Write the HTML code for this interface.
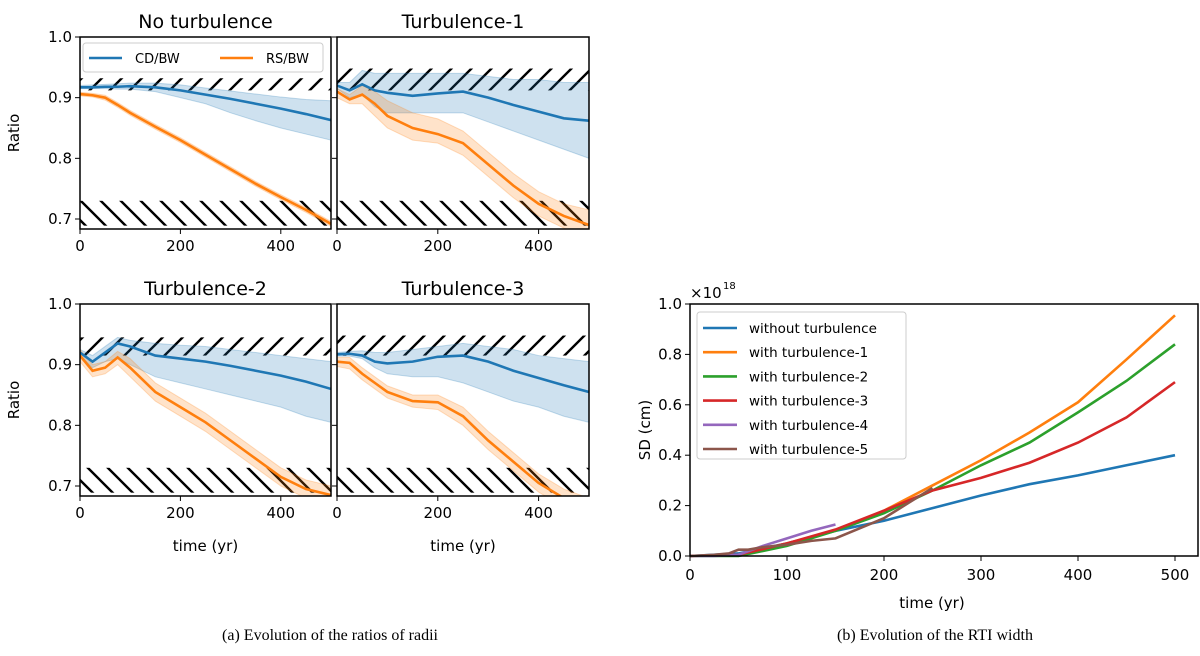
<!DOCTYPE html>
<html><head><meta charset="utf-8"><style>
body{margin:0;background:#fff;}
svg{display:block;font-family:"DejaVu Sans","Liberation Sans",sans-serif;}
</style></head><body>
<svg id="fig" width="1200" height="656" viewBox="0 0 1200 656" xmlns="http://www.w3.org/2000/svg">
<defs>
<pattern id="hatchF" width="20" height="20" patternUnits="userSpaceOnUse"><path d="M-5,25 L25,-5 M-5,5 L5,-5 M15,25 L25,15" stroke="#000" stroke-width="2.4"/></pattern>
<pattern id="hatchB" width="20" height="20" patternUnits="userSpaceOnUse"><path d="M-5,-5 L25,25 M-5,15 L5,25 M15,-5 L25,5" stroke="#000" stroke-width="2.4"/></pattern>
</defs>
<text x="330" y="640" text-anchor="middle" font-family="Liberation Serif,serif" font-size="16">(a)  Evolution of the ratios of radii</text>
<text x="935" y="640" text-anchor="middle" font-family="Liberation Serif,serif" font-size="16">(b)  Evolution of the RTI width</text>
</svg>
<script>
const NS="http://www.w3.org/2000/svg";
const svg=document.getElementById('fig');
function mk(tag,attrs,parent,text){const e=document.createElementNS(NS,tag);for(const k in attrs)e.setAttribute(k,attrs[k]);if(text!==undefined)e.textContent=text;(parent||svg).appendChild(e);return e;}

// ---- Left panels data ----
const ratioTime=[0,25,50,75,100,150,200,250,300,350,400,450,500];
const panelTitles=["No turbulence","Turbulence-1","Turbulence-2","Turbulence-3"];
const cdMean=[
 [.917,.917,.918,.918,.919,.917,.912,.905,.898,.89,.882,.873,.863],
 [.92,.912,.922,.912,.908,.903,.907,.91,.9,.888,.877,.866,.862],
 [.92,.905,.92,.935,.93,.915,.91,.905,.898,.89,.882,.872,.86],
 [.917,.918,.915,.905,.902,.905,.913,.915,.905,.89,.878,.866,.855]];
const cdLow=[
 [.915,.915,.915,.914,.914,.91,.9,.89,.875,.862,.85,.84,.83],
 [.915,.9,.905,.885,.875,.875,.875,.875,.86,.845,.83,.815,.8],
 [.915,.895,.905,.91,.9,.88,.87,.86,.85,.84,.83,.815,.805],
 [.914,.914,.91,.895,.885,.88,.88,.87,.855,.84,.83,.815,.805]];
const cdHigh=[
 [.92,.921,.922,.923,.924,.924,.921,.916,.911,.906,.901,.897,.895],
 [.925,.925,.945,.94,.94,.94,.94,.94,.935,.93,.93,.925,.925],
 [.925,.915,.93,.945,.94,.935,.932,.93,.925,.92,.915,.91,.905],
 [.92,.922,.923,.92,.92,.925,.93,.935,.93,.925,.915,.91,.905]];
const rsMean=[
 [.906,.904,.9,.888,.875,.852,.83,.806,.782,.758,.736,.715,.692],
 [.91,.897,.905,.89,.87,.85,.84,.825,.79,.755,.725,.705,.69],
 [.915,.89,.895,.912,.895,.855,.83,.805,.775,.745,.715,.695,.685],
 [.905,.903,.885,.87,.855,.84,.838,.815,.775,.74,.705,.68,.665]];
const rsLow=[
 [.903,.901,.896,.884,.871,.848,.826,.802,.778,.754,.732,.711,.688],
 [.9,.89,.89,.87,.85,.83,.825,.805,.77,.735,.705,.685,.67],
 [.905,.88,.885,.9,.88,.84,.815,.79,.76,.73,.7,.68,.67],
 [.897,.893,.875,.86,.845,.83,.826,.8,.76,.725,.69,.665,.65]];
const rsHigh=[
 [.909,.907,.904,.892,.879,.856,.834,.81,.786,.762,.74,.719,.696],
 [.915,.905,.92,.91,.895,.875,.865,.845,.81,.775,.745,.725,.715],
 [.925,.9,.905,.922,.91,.87,.845,.82,.79,.76,.73,.71,.7],
 [.912,.912,.895,.88,.865,.85,.85,.83,.79,.755,.72,.695,.68]];
const upperBand=[[.912,.932],[.912,.948],[.915,.945],[.915,.948]];
const lowerBand=[[.689,.73],[.689,.73],[.689,.73],[.689,.73]];
const ratioTicks=[0.7,0.8,0.9,1.0];
const timeTicksL=[0,200,400];

const boxes=[{l:80,r:331,y1:37,y07:219,b:229},{l:337,r:589,y1:37,y07:219,b:229},
             {l:80,r:331,y1:304,y07:486,b:496},{l:337,r:589,y1:304,y07:486,b:496}];
boxes.forEach((B,i)=>{
  const g=mk('g',{});
  
  
  const xs=v=>B.l+(v/500)*(B.r-B.l);
  const ys=v=>B.y1+(1-v)/0.3*(B.y07-B.y1);
  const cid='clip'+i;
  const cp=mk('clipPath',{id:cid},g);mk('rect',{x:B.l,y:B.y1,width:B.r-B.l,height:B.b-B.y1},cp);
  const inner=mk('g',{'clip-path':'url(#'+cid+')'},g);
  const ub=mk('rect',{x:B.l,y:ys(upperBand[i][1]),width:B.r-B.l,height:ys(upperBand[i][0])-ys(upperBand[i][1]),fill:'url(#hatchF)'},inner);
  
  const lb=mk('rect',{x:B.l,y:ys(lowerBand[i][1]),width:B.r-B.l,height:ys(lowerBand[i][0])-ys(lowerBand[i][1]),fill:'url(#hatchB)'},inner);
  
  function band(lo,hi,col,name){
    let d='M'+ratioTime.map((t,k)=>xs(t)+','+ys(hi[k])).join(' L');
    d+=' L'+ratioTime.slice().reverse().map((t,k)=>xs(t)+','+ys(lo[lo.length-1-k])).join(' L')+' Z';
    const p=mk('path',{d:d,fill:col,'fill-opacity':0.22,stroke:col,'stroke-opacity':0.25,'stroke-width':1},inner);
    
  }
  function line(v,col,name){
    const p=mk('path',{d:'M'+ratioTime.map((t,k)=>xs(t)+','+ys(v[k])).join(' L'),fill:'none',stroke:col,'stroke-width':2.6},inner);
    
  }
  band(cdLow[i],cdHigh[i],'#1f77b4','cd-bw-band');
  band(rsLow[i],rsHigh[i],'#ff7f0e','rs-bw-band');
  line(cdMean[i],'#1f77b4','cd-bw-line');
  line(rsMean[i],'#ff7f0e','rs-bw-line');
  const fr=mk('rect',{x:B.l,y:B.y1,width:B.r-B.l,height:B.b-B.y1,fill:'none',stroke:'#000','stroke-width':1.5},g);
  
  const tt=mk('text',{x:(B.l+B.r)/2,y:B.y1-9,'text-anchor':'middle','font-size':19},g,panelTitles[i]);
  
  timeTicksL.forEach(t=>{
    mk('line',{x1:xs(t),x2:xs(t),y1:B.b,y2:B.b+5,stroke:'#000'},g);
    const tx=mk('text',{x:xs(t),y:B.b+22,'text-anchor':'middle','font-size':15},g,String(t));
    
  });
  ratioTicks.forEach(v=>{
    mk('line',{x1:B.l-5,x2:B.l,y1:ys(v),y2:ys(v),stroke:'#000'},g);
    if(i%2===0){
      const ty=mk('text',{x:B.l-8,y:ys(v)+5,'text-anchor':'end','font-size':15},g,v.toFixed(1));
      
    }
  });
  if(i%2===0){
    const yl=mk('text',{x:0,y:0,'text-anchor':'middle','font-size':15,transform:`translate(19,${(B.y1+B.b)/2}) rotate(-90)`},g,'Ratio');
    
  }
  if(i>=2){
    const xl=mk('text',{x:(B.l+B.r)/2,y:B.b+55,'text-anchor':'middle','font-size':15},g,'time (yr)');
    
  }
  if(i===0){
    const lg=mk('g',{},g);
    mk('rect',{x:83,y:43,width:240,height:29,rx:3,fill:'#fff','fill-opacity':0.8,stroke:'#ccc'},lg);
    mk('line',{x1:89,x2:122,y1:58,y2:58,stroke:'#1f77b4','stroke-width':2.6},lg);
    mk('text',{x:135,y:63,'font-size':13},lg,'CD/BW');
    mk('line',{x1:220,x2:253,y1:58,y2:58,stroke:'#ff7f0e','stroke-width':2.6},lg);
    mk('text',{x:266,y:63,'font-size':13},lg,'RS/BW');
  }
});

// ---- Right chart data ----
const sdTimeMain=[0,50,100,150,200,250,300,350,400,450,500];
const sdWithout=[0,.01,.05,.1,.14,.19,.24,.285,.32,.36,.40];
const sdTurb1=[0,.005,.05,.1,.18,.28,.38,.49,.61,.78,.955];
const sdTurb2=[0,.0,.04,.1,.17,.26,.36,.45,.57,.695,.84];
const sdTurb3=[0,.005,.05,.105,.18,.26,.31,.37,.45,.55,.69];
const sdTime4=[0,25,50,75,100,125,150];
const sdTurb4=[0,.0,.005,.04,.07,.1,.125];
const sdTime5=[0,25,40,50,60,75,100,125,150,175,200,225,250];
const sdTurb5=[0,.005,.01,.025,.025,.035,.045,.06,.07,.11,.15,.21,.27];
const sdSeriesNames=["without turbulence","with turbulence-1","with turbulence-2","with turbulence-3","with turbulence-4","with turbulence-5"];
const sdColors=['#1f77b4','#ff7f0e','#2ca02c','#d62728','#9467bd','#8c564b'];
const sdXTicks=[0,100,200,300,400,500];
const sdYTicks=[0,0.2,0.4,0.6,0.8,1.0];

const R={l:690,r:1198,t:304,b:556};
const rx=v=>R.l+v/500*(1175-690);
const ry=v=>R.b-v*(R.b-R.t);
const rg=mk('g',{});
const series=[[sdTimeMain,sdWithout],[sdTimeMain,sdTurb1],[sdTimeMain,sdTurb2],[sdTimeMain,sdTurb3],[sdTime4,sdTurb4],[sdTime5,sdTurb5]];
series.forEach((s,k)=>{
  const p=mk('path',{d:'M'+s[0].map((t,j)=>rx(t)+','+ry(s[1][j])).join(' L'),fill:'none',stroke:sdColors[k],'stroke-width':2.6},rg);
  
});
const rf=mk('rect',{x:R.l,y:R.t,width:R.r-R.l,height:R.b-R.t,fill:'none',stroke:'#000','stroke-width':1.5},rg);

sdXTicks.forEach(t=>{
  mk('line',{x1:rx(t),x2:rx(t),y1:R.b,y2:R.b+5,stroke:'#000'},rg);
  const tx=mk('text',{x:rx(t),y:R.b+24,'text-anchor':'middle','font-size':15},rg,String(t));
  
});
sdYTicks.forEach(v=>{
  mk('line',{x1:R.l-5,x2:R.l,y1:ry(v),y2:ry(v),stroke:'#000'},rg);
  const ty=mk('text',{x:R.l-8,y:ry(v)+5,'text-anchor':'end','font-size':15},rg,v.toFixed(1));
  
});
const ex=mk('text',{x:690,y:298,'font-size':15},rg,'×10');
mk('text',{x:723,y:289,'font-size':10},rg,'18');
const yl=mk('text',{x:0,y:0,'text-anchor':'middle','font-size':15,transform:'translate(650,430) rotate(-90)'},rg,'SD (cm)');

const xl=mk('text',{x:932,y:608,'text-anchor':'middle','font-size':15},rg,'time (yr)');

const lg=mk('g',{},rg);
mk('rect',{x:697,y:312,width:209,height:147,rx:3,fill:'#fff','fill-opacity':0.8,stroke:'#ccc'},lg);
sdSeriesNames.forEach((n,k)=>{
  const yy=328+k*24.2;
  mk('line',{x1:703,x2:737,y1:yy,y2:yy,stroke:sdColors[k],'stroke-width':2.6},lg);
  const t=mk('text',{x:749,y:yy+5,'font-size':13.5},lg,n);
  
});
</script>
</body></html>
